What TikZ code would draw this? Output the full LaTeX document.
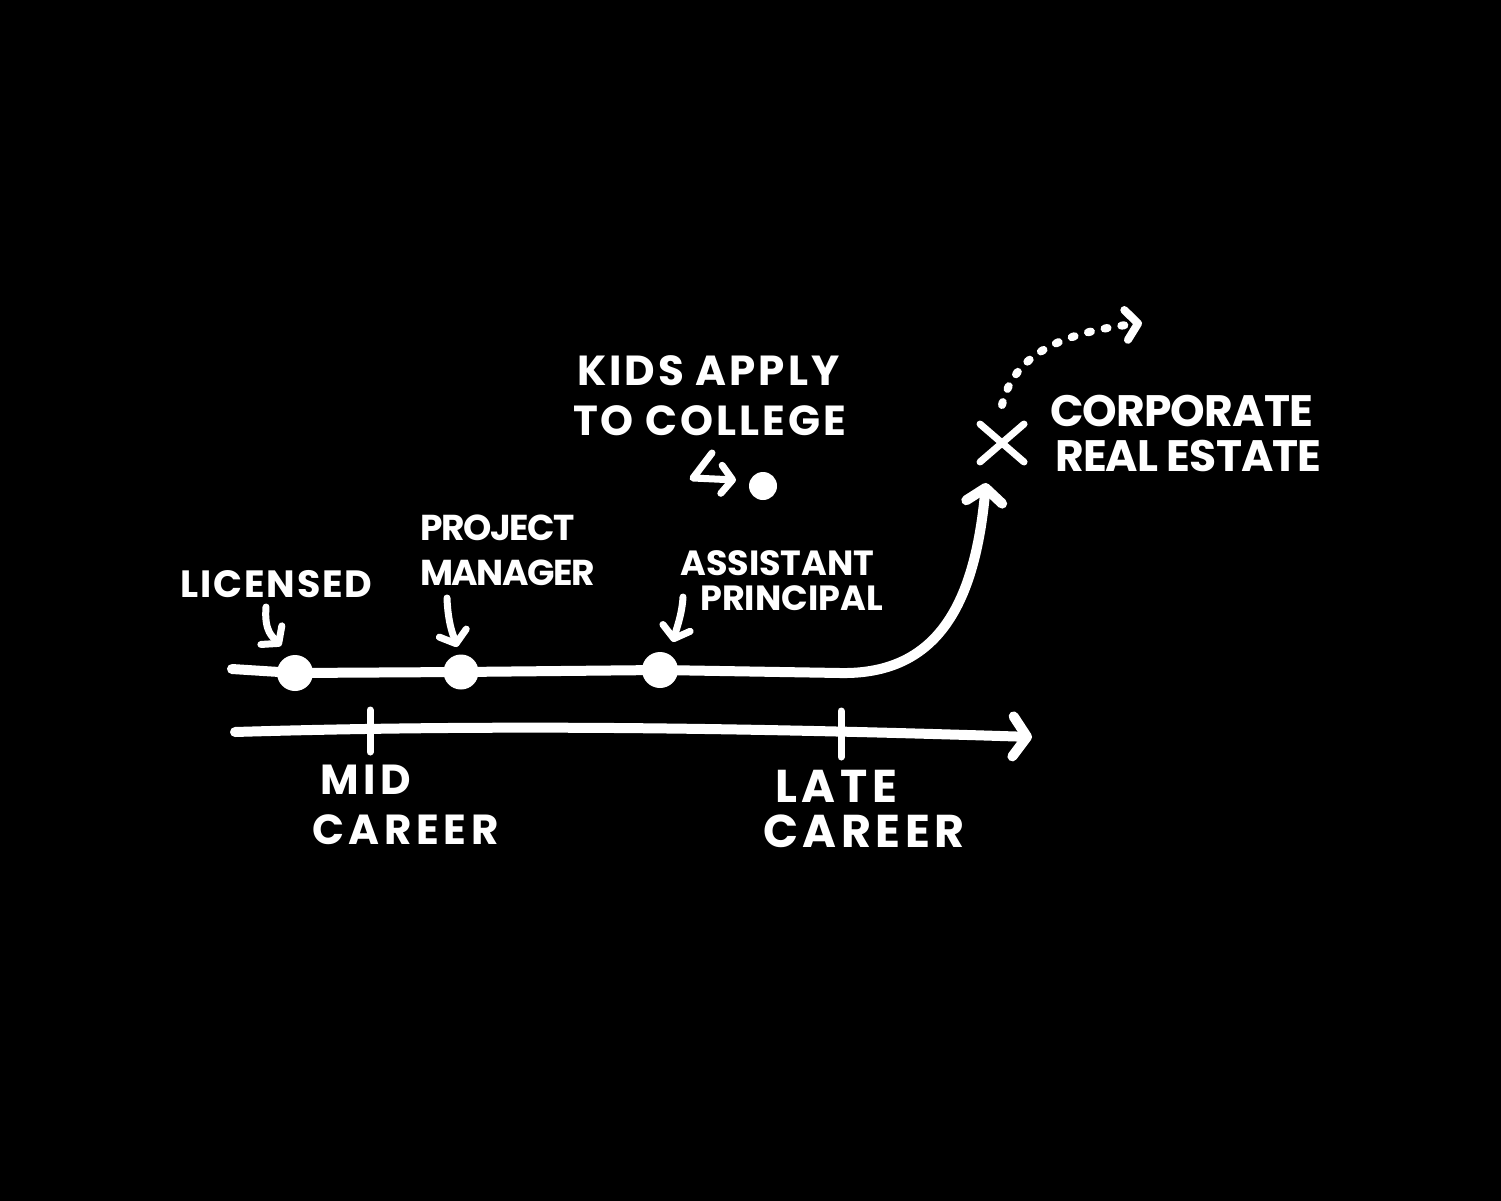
\documentclass[tikz,border=0pt]{standalone}
\usepackage{fontspec}
\setmainfont{Poppins}
\usetikzlibrary{arrows.meta,shapes.misc}
\begin{document}
\begin{tikzpicture}[x=1pt,y=1pt]
\tikzset{
  chalk/.style={draw=white, line width=10pt, line cap=round, line join=round},
  pointer/.style={draw=white, line width=7pt, line cap=round, line join=round, -{Straight Barb[length=11pt,width=28pt,round]}},
  tickmark/.style={draw=white, line width=7pt, line cap=round},
  dotnode/.style={circle, fill=white, inner sep=0pt, minimum size=36pt},
  lbl/.style={text=white, inner sep=0pt, anchor=north west, align=left},
}
\fill[black] (0,0) rectangle (1501,-1201);
\useasboundingbox (0,0) rectangle (1501,-1201);

% labels
\node[lbl, font=\fontsize{42}{50}\selectfont\bfseries\addfontfeature{LetterSpace=7}] (kids) at (573,-355) {\hspace*{4pt}KIDS APPLY\\TO COLLEGE};
\node[lbl, font=\fontsize{44}{45}\selectfont\bfseries\addfontfeature{LetterSpace=-2}] (corp) at (1050,-395) {CORPORATE\\\hspace*{5pt}REAL ESTATE};
\node[lbl, font=\fontsize{38}{45}\selectfont\bfseries\addfontfeature{LetterSpace=5}] (lic) at (180,-570) {LICENSED};
\node[lbl, font=\fontsize{36}{45}\selectfont\bfseries\addfontfeature{LetterSpace=-4}] (pm) at (420,-515) {PROJECT\\MANAGER};
\node[lbl, font=\fontsize{35}{35}\selectfont\bfseries] (ap) at (680,-550) {ASSISTANT\\\hspace*{20pt}PRINCIPAL};
\node[lbl, font=\fontsize{42}{50}\selectfont\bfseries\addfontfeature{LetterSpace=11}] (mid) at (312,-765) {\hspace*{8pt}MID\\CAREER};
\node[lbl, font=\fontsize{46}{45}\selectfont\bfseries\addfontfeature{LetterSpace=10}] (late) at (763,-770) {\hspace*{12pt}LATE\\CAREER};

% dots on the career line
\node[dotnode] (d1) at (295,-673) {};
\node[dotnode, minimum size=35pt] (d2) at (461,-672) {};
\node[dotnode] (d3) at (660,-670) {};
\node[dotnode, minimum size=28pt] (kd) at (763,-486) {};

% career line
\coordinate (cstart) at (232,-669);
\coordinate (ctip) at (986,-483);
\draw[chalk, -{Straight Barb[length=14pt,width=36pt,round]}]
  (cstart) -- (d1.center) -- (d2.center) -- (d3.center) -- (840,-673)
  .. controls (940,-675) and (975,-600) .. (ctip);

% time axis
\coordinate (ax0) at (235,-732);
\coordinate (ax1) at (1032,-737);
\coordinate (tmid) at (370,-730);
\coordinate (tlate) at (841,-733);
\draw[chalk, -{Straight Barb[length=14pt,width=40pt,round]}]
  (ax0) .. controls (500,-724) and (750,-728) .. (ax1);
\draw[tickmark] ([yshift=20pt]tmid) -- ([yshift=-22pt]tmid);
\draw[tickmark] ([yshift=22pt]tlate) -- ([yshift=-24pt]tlate);

% pointers from labels to dots
\draw[pointer] ([shift={(86,-37)}]lic.north west)
  .. controls +(-2,-25) and +(-8,9) .. ([shift={(-14,27)}]d1.center);
\draw[pointer] ([shift={(27,-83)}]pm.north west)
  .. controls +(1,-27) and +(-3,10) .. ([shift={(-4,25)}]d2.center);
\draw[pointer] ([shift={(3,-47)}]ap.north west)
  .. controls +(-1,-18) and +(3,12) .. ([shift={(13,28)}]d3.center);

% hook arrow to the kids dot
\draw[pointer] ([shift={(-51,33)}]kd.center) -- ([shift={(-70,8)}]kd.center) -- ([shift={(-27,6)}]kd.center);

% X mark and dotted continuation
\node[cross out, draw=white, line width=7pt, line cap=round, minimum width=37pt, minimum height=31pt, inner sep=0pt] (xm) at (1002,-443) {};
\coordinate (dotend) at (1142,-323);
\draw[draw=white, line width=8pt, line cap=round, dash pattern=on 3pt off 14pt,
      -{Straight Barb[length=12pt,width=30pt,round]}]
  ([yshift=38pt]xm.center) .. controls (1014,-355) and (1060,-333) .. (dotend);
\end{tikzpicture}
\end{document}
